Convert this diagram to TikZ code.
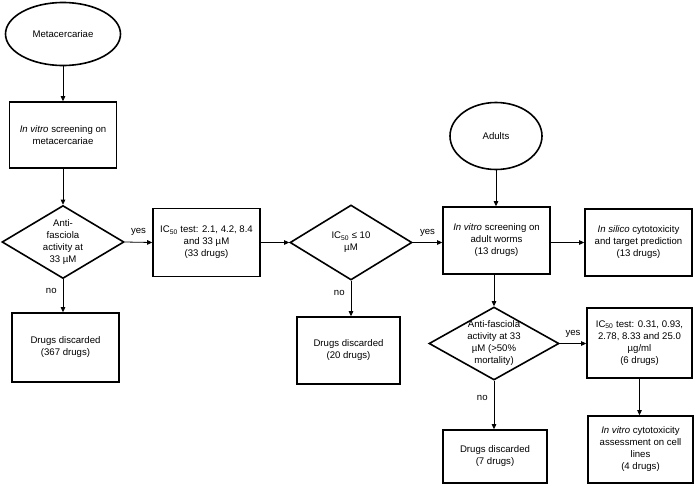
\documentclass[tikz,border=0pt]{standalone}
\usepackage{fontspec}
\setmainfont{Liberation Sans}
\usetikzlibrary{shapes.geometric, arrows.meta, positioning}

\begin{document}
\begin{tikzpicture}[
			x=1pt, y=-1pt,
			every node/.style={font=\fontsize{9.6}{12}\selectfont},
			startstop/.style={ellipse, draw=black, line width=1.6pt, align=center, inner sep=0pt},
			process/.style={rectangle, draw=black, line width=1.6pt, align=center, inner sep=0pt},
			decision/.style={diamond, draw=black, line width=1.6pt, align=center, inner sep=0pt},
			arrow/.style={line width=0.8pt, -{Triangle[length=5pt,width=4.5pt]}},
			answer/.style={inner sep=0pt}
			]
			\useasboundingbox (0,0) rectangle (696,485);
			
			% Metacercariae branch
			\node (meta) [startstop, minimum width=115, minimum height=63] at (63,34) {Metacercariae};
			\node (screenMeta) [process, minimum width=107, minimum height=66] at (63,135) {\textit{In vitro} screening on\\metacercariae};
			\node (activity) [decision, minimum width=122, minimum height=73] at (63,242) {\smash{\raisebox{-2.5pt}{\begin{tabular}{@{}c@{}}Anti-\\fasciola\\activity at\\33 µM\end{tabular}}}};
			\node (discMeta) [process, minimum width=107, minimum height=69] at (65.5,347.5) {Drugs discarded\\(367 drugs)};
			
			% IC50 test
			\node (icTest) [process, minimum width=107, minimum height=68] at (206.5,242.5) {IC\textsubscript{50} test: 2.1, 4.2, 8.4\\and 33 µM\\(33 drugs)};
			\node (icLimit) [decision, minimum width=122, minimum height=75] at (351,242.5) {\smash{\raisebox{-2.5pt}{\begin{tabular}{@{}c@{}}IC\textsubscript{50} ≤ 10\\µM\end{tabular}}}};
			\node (discIc) [process, minimum width=103, minimum height=67] at (348.5,350.5) {Drugs discarded\\(20 drugs)};
			
			% Adults branch
			\node (adults) [startstop, minimum width=92, minimum height=67] at (496,136) {Adults};
			\node (screenAdult) [process, minimum width=107, minimum height=67] at (496.5,240.5) {\textit{In vitro} screening on\\adult worms\\(13 drugs)};
			\node (silico) [process, minimum width=107, minimum height=67] at (638.5,242.5) {\textit{In silico} cytotoxicity\\and target prediction\\(13 drugs)};
			\node (activityAdult) [decision, minimum width=130, minimum height=73] at (494,343.5) {\smash{\raisebox{-2.5pt}{\begin{tabular}{@{}c@{}}Anti-fasciola\\activity at 33\\µM (>50\%\\mortality)\end{tabular}}}};
			\node (icAdult) [process, minimum width=105, minimum height=70] at (639.5,343) {IC\textsubscript{50} test: 0.31, 0.93,\\2.78, 8.33 and 25.0\\µg/ml\\(6 drugs)};
			\node (discAdult) [process, minimum width=104, minimum height=53] at (495,456.5) {Drugs discarded\\(7 drugs)};
			\node (cytotox) [process, minimum width=105, minimum height=67] at (640.5,449.5) {\textit{In vitro} cytotoxicity\\assessment on cell\\lines\\(4 drugs)};
			
			% Connections
			\draw [arrow] (meta) -- (screenMeta);
			\draw [arrow] (screenMeta) -- (activity);
			\draw [arrow] (activity.south) -- node[answer, left=6pt, pos=0.35] (noMeta) {no} (activity.south |- discMeta.north);
			\draw [arrow] (activity.east) -- node[answer, above=6pt] (yesMeta) {yes} (icTest.west);
			\draw [arrow] (icTest.east) -- (icLimit.west);
			\draw [arrow] (icLimit.south) -- node[answer, left=6pt, pos=0.35] (noIc) {no} (icLimit.south |- discIc.north);
			\draw [arrow] (icLimit.east) -- node[answer, above=6pt] (yesIc) {yes} (icLimit.east -| screenAdult.west);
			
			\draw [arrow] (adults) -- (adults |- screenAdult.north);
			\draw [arrow] (screenAdult.east |- silico.west) -- (silico.west);
			\draw [arrow] (activityAdult.north |- screenAdult.south) -- (activityAdult.north);
			\draw [arrow] (activityAdult.east) -- node[answer, above=6pt] (yesAdult) {yes} (activityAdult.east -| icAdult.west);
			\draw [arrow] (activityAdult.south) -- node[answer, left=6pt, pos=0.35] (noAdult) {no} (activityAdult.south |- discAdult.north);
			\draw [arrow] (icAdult.south) -- (icAdult.south |- cytotox.north);
			
		\end{tikzpicture}
\end{document}
